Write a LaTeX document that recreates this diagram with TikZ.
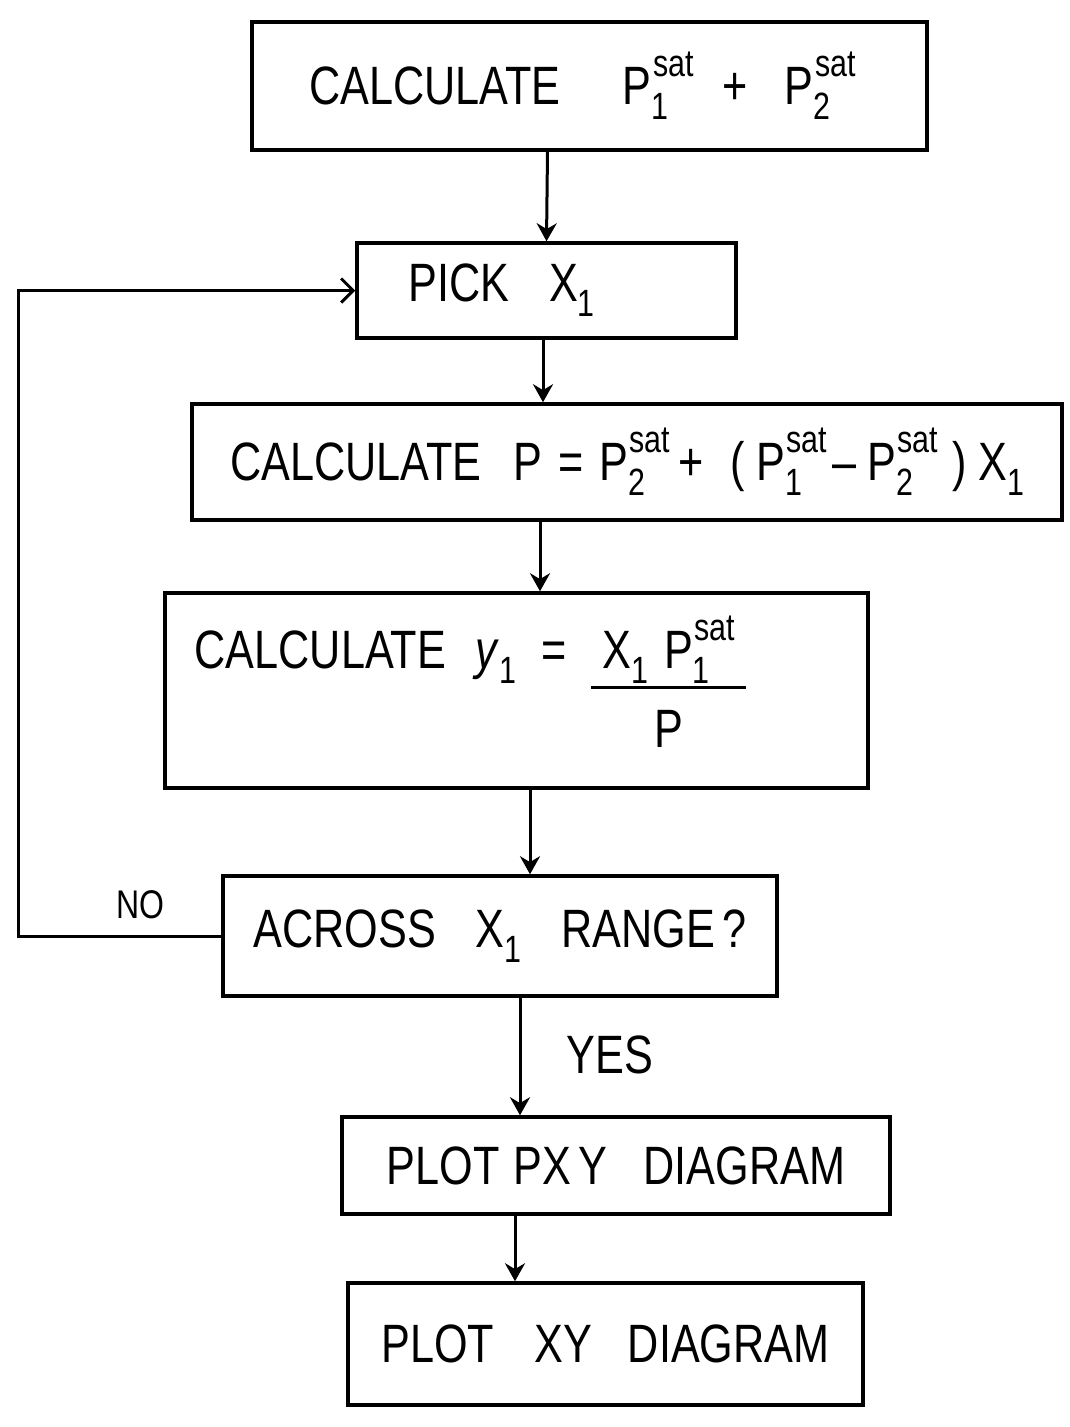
\documentclass[tikz,border=0pt]{standalone}
\usepackage{fontspec}
\usepackage{graphicx}
\setmainfont{Liberation Sans}
\usetikzlibrary{arrows.meta}
\newcommand{\hw}[1]{\scalebox{0.8}[1]{#1}}
\newcommand{\scr}[1]{{\fontsize{38}{44}\selectfont #1}}
\newcommand{\sub}[1]{\raisebox{-15pt}{\scr{#1}}}
\newcommand{\Psat}[1]{P\rlap{\sub{#1}}\hspace{2pt}\raisebox{28pt}{\scr{sat}}}
\newcommand{\Xone}{X\sub{1}}
\tikzset{
  box/.style={draw, rectangle, line width=3.5pt, inner sep=0pt},
  lbl/.style={font=\fontsize{54}{60}\selectfont},
  small/.style={font=\fontsize{40}{46}\selectfont, inner sep=0pt},
  arr/.style={-{Stealth[length=18pt,width=20pt]}, line width=3pt},
  looparr/.style={-{Straight Barb[length=12pt,width=24pt]}, line width=3pt},
}
\begin{document}
\begin{tikzpicture}[x=1pt,y=-1pt]
\useasboundingbox (0,0) rectangle (1069,1427);
\node[box, lbl, minimum width=675pt, minimum height=128pt] (b1) at (589.5,86)
  {\hw{CALCULATE\hspace{78pt}\Psat{1}\hspace{36pt}+\hspace{46pt}\Psat{2}}\hspace{14pt}\mbox{}};
\node[box, lbl, minimum width=379pt, minimum height=95pt] (b2) at (546.5,290.5)
  {\hw{PICK\hspace{50pt}\Xone}\hspace{90pt}\mbox{}};
\node[box, lbl, minimum width=870pt, minimum height=116pt] (b3) at (627,462)
  {\hw{CALCULATE\hspace{40pt}P\hspace{20pt}=\hspace{20pt}\Psat{2}\hspace{10pt}+\hspace{34pt}(\hspace{14pt}\Psat{1}\hspace{6pt}\textendash\hspace{14pt}\Psat{2}\hspace{18pt})\hspace{14pt}\Xone}};
\node[box, lbl, minimum width=703pt, minimum height=195pt] (b4) at (516.5,690.5)
  {\hw{CALCULATE\hspace{37pt}\textit{y}\sub{1}\hspace{31pt}=\hspace{31pt}{\setlength{\arrayrulewidth}{3pt}\begin{tabular}[t]{@{\hspace{14pt}}c@{\hspace{14pt}}}\Xone\hspace{20pt}\Psat{1}\\\hline\rule{0pt}{58pt}P\end{tabular}}}\hspace{92pt}\mbox{}};
\node[box, lbl, minimum width=554pt, minimum height=120pt] (b5) at (500,936)
  {\hw{ACROSS\hspace{50pt}\Xone\hspace{50pt}RANGE\,?}};
\node[box, lbl, minimum width=548pt, minimum height=97pt] (b6) at (616,1165.5)
  {\hw{PLOT\hspace{18pt}PX\,Y\hspace{45pt}DIAGRAM}};
\node[box, lbl, minimum width=515pt, minimum height=122pt] (b7) at (605.5,1344)
  {\hw{PLOT\hspace{50pt}XY\hspace{45pt}DIAGRAM}};
\draw[arr] ([xshift=-42pt]b1.south) -- (b2.north);
\draw[arr] ([xshift=-3.5pt]b2.south) -- ([xshift=-84pt]b3.north);
\draw[arr] ([xshift=-87pt]b3.south) -- ([xshift=23.5pt]b4.north);
\draw[arr] ([xshift=13.5pt]b4.south) -- ([xshift=30pt]b5.north);
\draw[arr] ([xshift=20pt]b5.south) -- ([xshift=-96pt]b6.north);
\draw[arr] ([xshift=-101pt]b6.south) -- ([xshift=-90.5pt]b7.north);
\coordinate (lc) at (18,936);
\draw[looparr, line join=miter] (b5.west) -- (lc) |- (b2.west);
\node[small] (no) at (140,905) {\hw{NO}};
\node[lbl, inner sep=0pt] (yes) at (610,1055) {\hw{YES}};
\end{tikzpicture}
\end{document}
